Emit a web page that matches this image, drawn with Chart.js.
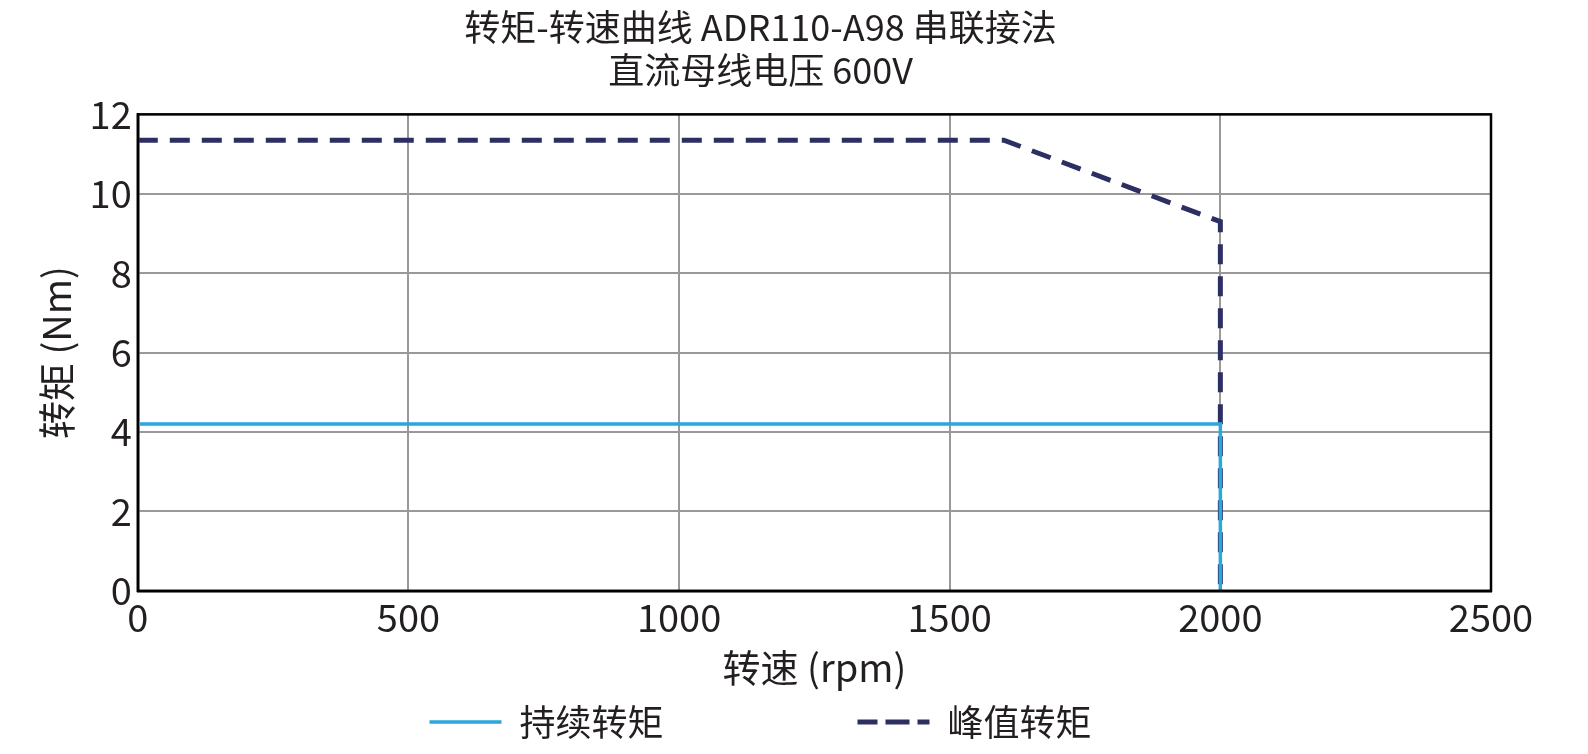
<!DOCTYPE html>
<html><head><meta charset="utf-8">
<script src="https://cdn.jsdelivr.net/npm/chart.js@4"></script>
<style>html,body{margin:0;background:#fff}#w{width:1588px;height:754px}</style>
</head><body><div id="w"><canvas id="c"></canvas></div>
<script>
const contSpeed=[0,2000,2000];
const contTorque=[4.2,4.2,0];
const peakSpeed=[0,1600,2000,2000];
const peakTorque=[11.35,11.35,9.3,0];
const xTicks=[0,500,1000,1500,2000,2500];
const yTicks=[0,2,4,6,8,10,12];
const F="'Noto Sans CJK SC','Noto Sans',sans-serif";
const toPts=(xs,ys)=>xs.map((x,i)=>({x,y:ys[i]}));
new Chart(document.getElementById('c'),{type:'line',
data:{datasets:[
{label:'持续转矩',data:toPts(contSpeed,contTorque),borderColor:'#2aa7dc',borderWidth:3.5,pointRadius:0,tension:0},
{label:'峰值转矩',data:toPts(peakSpeed,peakTorque),borderColor:'#2d2f63',borderWidth:5,borderDash:[20,12],pointRadius:0,tension:0}]},
options:{responsive:true,maintainAspectRatio:false,animation:false,
layout:{padding:{left:30,right:97,top:0,bottom:4}},
plugins:{title:{display:true,text:['转矩-转速曲线 ADR110-A98 串联接法','直流母线电压 600V'],color:'#231f20',font:{family:F,size:36,weight:'normal'},padding:{top:6,bottom:22},lineHeight:1.95},
legend:{position:'bottom',labels:{color:'#231f20',font:{family:F,size:36},boxWidth:72,boxHeight:0,padding:14,
generateLabels:(ch)=>ch.data.datasets.map((d,i)=>({text:d.label+(i===0?'\u2003\u2003\u2003\u2003\u2003':''),strokeStyle:d.borderColor,fillStyle:d.borderColor,lineWidth:d.borderWidth,lineDash:d.borderDash||[],datasetIndex:i,fontColor:'#231f20'}))}}},
scales:{
x:{type:'linear',min:0,max:2500,afterBuildTicks:a=>{a.ticks=xTicks.map(v=>({value:v}))},
ticks:{color:'#231f20',font:{family:F,size:38},padding:4,callback:v=>String(v)},
grid:{color:'#999',lineWidth:2,drawTicks:false},border:{color:'#000',width:2.5},
title:{display:true,text:'转速 (rpm)',color:'#231f20',font:{family:F,size:38},padding:{top:0,bottom:0}}},
y:{min:0,max:12,afterBuildTicks:a=>{a.ticks=yTicks.map(v=>({value:v}))},
ticks:{color:'#231f20',font:{family:F,size:38},padding:6,callback:v=>String(v)},
grid:{color:'#999',lineWidth:2,drawTicks:false},border:{color:'#000',width:2.5},
title:{display:true,text:'转矩 (Nm)',color:'#231f20',font:{family:F,size:38},padding:{bottom:4}}}}},
plugins:[{id:'frame',afterDraw(c){const a=c.chartArea,x=c.ctx;x.save();x.strokeStyle='#000';x.lineWidth=2.5;x.strokeRect(a.left,a.top,a.right-a.left,a.bottom-a.top);x.restore();}}]
});
</script></body></html>
